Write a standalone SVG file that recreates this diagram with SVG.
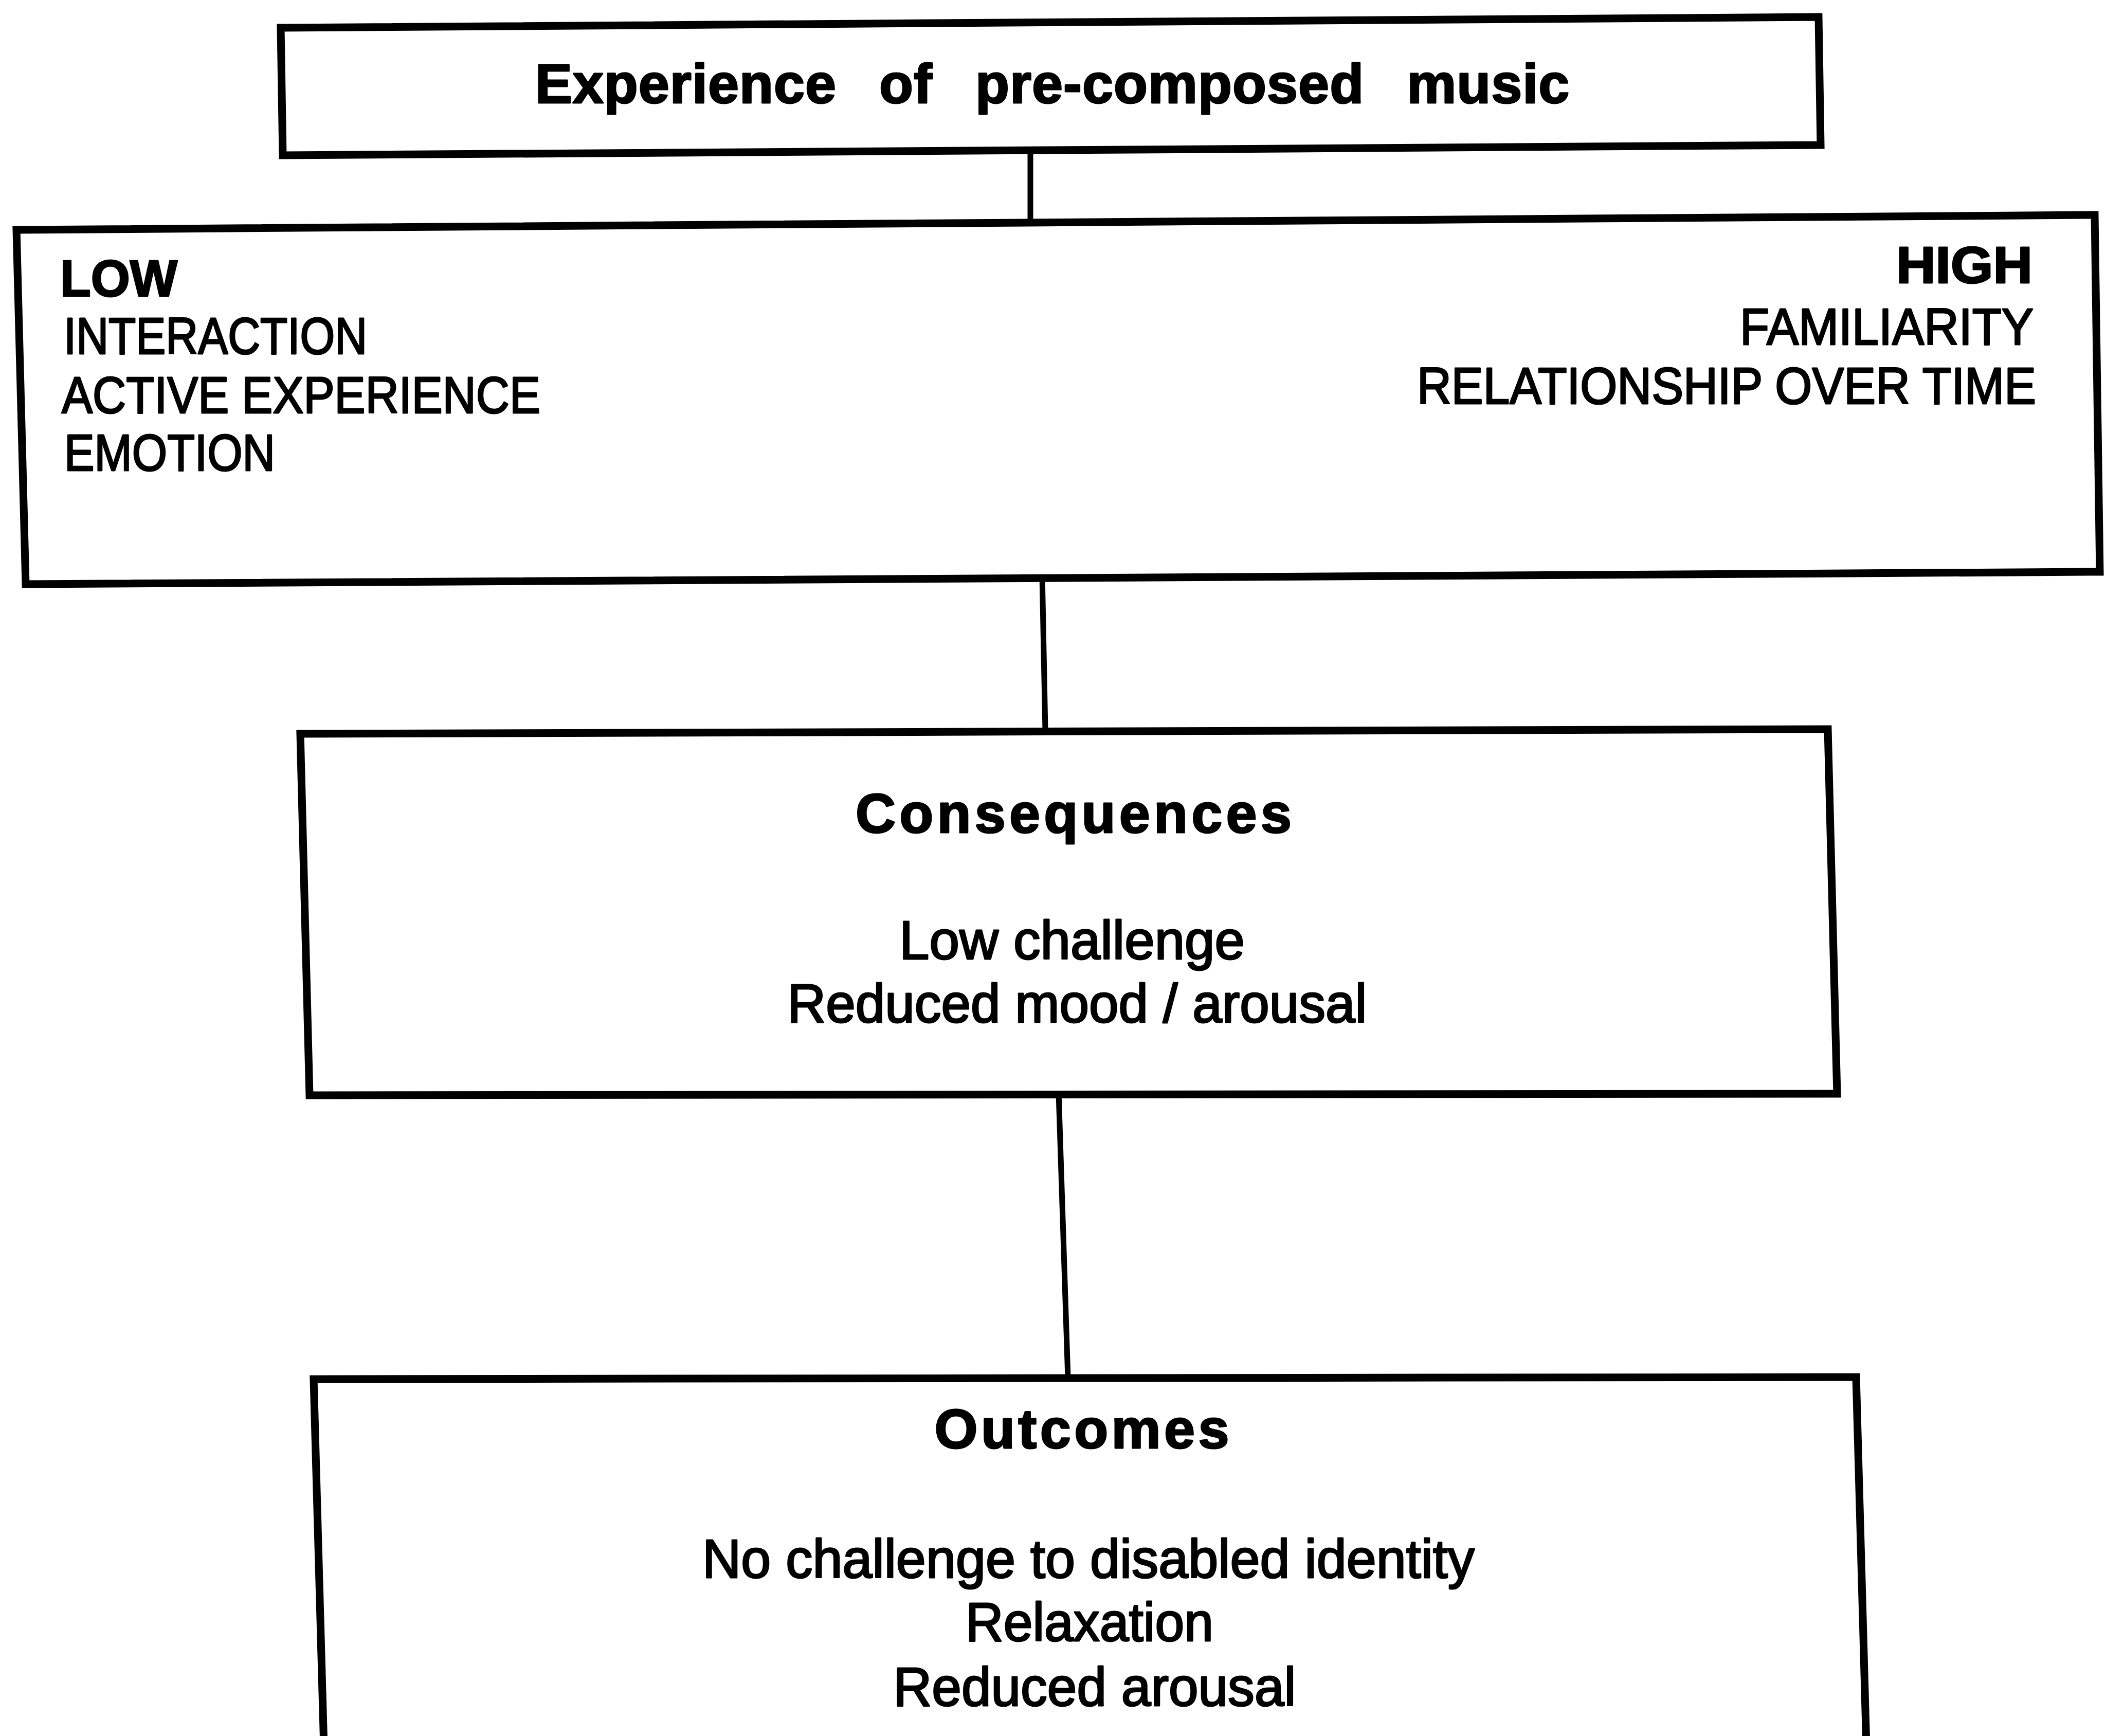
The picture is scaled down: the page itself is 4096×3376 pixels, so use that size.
<svg xmlns="http://www.w3.org/2000/svg" width="4096" height="3376" viewBox="0 0 4096 3376">
  <style>
    .box { fill: #ffffff; stroke: #000000; stroke-width: 15; stroke-linejoin: miter; }
    .link { stroke: #000000; stroke-width: 11; fill: none; }
    .t { font-family: "Liberation Sans", Arial, Helvetica, sans-serif; fill: #000000; stroke: #000000; stroke-width: 3; stroke-linejoin: round; }
    .bold { font-weight: bold; font-size: 108px; }
    .caps { font-size: 101px; }
    .capsb { font-weight: bold; font-size: 100px; }
    .body { font-size: 105px; }
    .mid { text-anchor: middle; }
    .end { text-anchor: end; }
  </style>
  <rect width="4096" height="3376" fill="#ffffff"/>

  <!-- connectors between the stacked boxes -->
  <g id="connectors">
    <line class="link" x1="2004" y1="293" x2="2004" y2="431"/>
    <line class="link" x1="2027" y1="1118" x2="2033" y2="1420"/>
    <line class="link" x1="2059" y1="2126" x2="2077" y2="2679"/>
  </g>

  <g id="node-experience">
    <polygon class="box" points="546,54 3537,33 3541,282 550,302"/>
    <text class="t bold mid" x="2047" y="200" letter-spacing="1" word-spacing="52">Experience of pre-composed music</text>
  </g>

  <g id="node-dimensions">
    <polygon class="box" points="32,447 4074,418 4084,1112 50,1136"/>
    <text class="t capsb" x="117" y="576" textLength="228" lengthAdjust="spacingAndGlyphs">LOW</text>
    <text class="t caps" x="124" y="688" textLength="590" lengthAdjust="spacingAndGlyphs">INTERACTION</text>
    <text class="t caps" x="120" y="803" textLength="931" lengthAdjust="spacingAndGlyphs">ACTIVE EXPERIENCE</text>
    <text class="t caps" x="125" y="915" textLength="410" lengthAdjust="spacingAndGlyphs">EMOTION</text>
    <text class="t capsb end" x="3953" y="550" textLength="265" lengthAdjust="spacingAndGlyphs">HIGH</text>
    <text class="t caps end" x="3955" y="670" textLength="571" lengthAdjust="spacingAndGlyphs">FAMILIARITY</text>
    <text class="t caps end" x="3960" y="785" textLength="1204" lengthAdjust="spacingAndGlyphs">RELATIONSHIP OVER TIME</text>
  </g>

  <g id="node-consequences">
    <polygon class="box" points="584,1427 3555,1418 3573,2127 602,2130"/>
    <text class="t bold mid" x="2088" y="1619" textLength="848" lengthAdjust="spacing">Consequences</text>
    <text class="t body mid" x="2085" y="1865" textLength="672" lengthAdjust="spacingAndGlyphs">Low challenge</text>
    <text class="t body mid" x="2095" y="1988" textLength="1127" lengthAdjust="spacingAndGlyphs">Reduced mood / arousal</text>
  </g>

  <g id="node-outcomes">
    <polygon class="box" points="610,2682 3610,2678 3632,3470 632,3470"/>
    <text class="t bold mid" x="2104" y="2816" textLength="573" lengthAdjust="spacing">Outcomes</text>
    <text class="t body mid" x="2117" y="3068" textLength="1502" lengthAdjust="spacingAndGlyphs">No challenge to disabled identity</text>
    <text class="t body mid" x="2119" y="3191" textLength="482" lengthAdjust="spacingAndGlyphs">Relaxation</text>
    <text class="t body mid" x="2129" y="3317" textLength="783" lengthAdjust="spacingAndGlyphs">Reduced arousal</text>
  </g>
</svg>
